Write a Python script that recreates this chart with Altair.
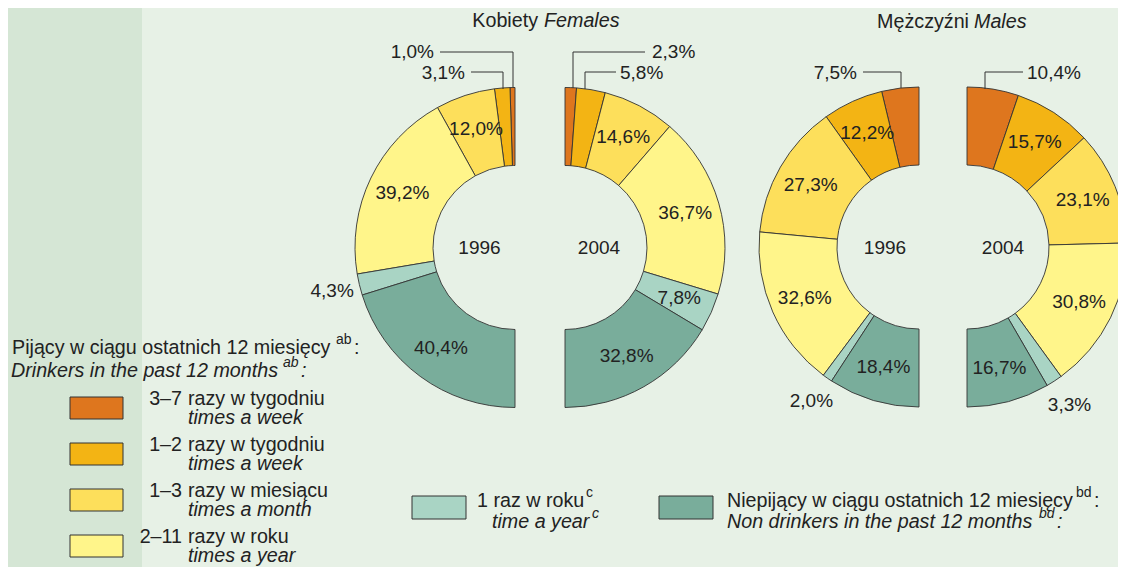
import math
import altair as alt
import pandas as pd

# ---------------- data ----------------
cat_keys = ["w37", "w12", "m13", "y211", "y1", "non"]
cat_colors = ["#de761e", "#f3b414", "#fddf5b", "#fff58a", "#a9d4c4", "#79ad9b"]

female_1996 = [1.0, 3.1, 12.0, 39.2, 4.3, 40.4]
female_2004 = [2.3, 5.8, 14.6, 36.7, 7.8, 32.8]
male_1996 = [7.5, 12.2, 27.3, 32.6, 2.0, 18.4]
male_2004 = [10.4, 15.7, 23.1, 30.8, 3.3, 16.7]

# where each value's label goes: inside the ring, just outside, or on a leader line
female_1996_place = ["lead", "lead", "in", "in", "out", "in"]
female_2004_place = ["lead", "lead", "in", "in", "in", "in"]
male_1996_place = ["lead", "in", "in", "in", "out", "in"]
male_2004_place = ["lead", "in", "in", "in", "out", "in"]

legend_numbers = ["3–7", "1–2", "1–3", "2–11"]
legend_polish = ["razy w tygodniu", "razy w tygodniu", "razy w miesiącu", "razy w roku"]
legend_english = ["times a week", "times a week", "times a month", "times a year"]

# ---------------- style ----------------
FONT = "Liberation Sans"
TXT = "#222222"
BG = "#e7f1e6"
STRIP = "#d5e6d5"
EDGE = "#333333"
R_OUT, R_IN = 160, 82
NUM_SIZE = 19
LEG_SIZE = 19.7
SUP_SIZE = 14

color_scale = alt.Scale(domain=cat_keys, range=cat_colors)


def fmt(v):
    return f"{v:.1f}".replace(".", ",") + "%"


def txt(s, x, y, size=LEG_SIZE, italic=False, align="left"):
    return alt.Chart(pd.DataFrame({"t": [s]})).mark_text(
        align=align, baseline="middle", font=FONT, fontSize=size,
        fontStyle="italic" if italic else "normal", color=TXT
    ).encode(text="t:N", x=alt.value(x), y=alt.value(y))


layers = []

# left darker strip
layers.append(
    alt.Chart(pd.DataFrame({"a": [0]})).mark_rect(color=STRIP).encode(
        x=alt.value(0), x2=alt.value(134), y=alt.value(0), y2=alt.value(559)
    )
)

# ---------------- half rings ----------------
halves = [
    (female_1996, female_1996_place, 507, 239.5, [2 * math.pi, math.pi]),
    (female_2004, female_2004_place, 557, 239.5, [0, math.pi]),
    (male_1996, male_1996_place, 911, 239, [2 * math.pi, math.pi]),
    (male_2004, male_2004_place, 959, 239, [0, math.pi]),
]

for vals, places, cx, cy, rng in halves:
    df = pd.DataFrame({
        "cat": cat_keys,
        "order": list(range(len(cat_keys))),
        "value": vals,
        "label": [fmt(v) for v in vals],
        "place": places,
    })
    base = alt.Chart(df).encode(
        theta=alt.Theta("value:Q", stack=True,
                        scale=alt.Scale(domain=[0, 100], range=rng)),
        order=alt.Order("order:Q", sort="ascending"),
        x=alt.value(cx),
        y=alt.value(cy),
    )
    layers.append(
        base.mark_arc(innerRadius=R_IN, outerRadius=R_OUT, stroke=EDGE,
                      strokeWidth=0.9).encode(
            color=alt.Color("cat:N", scale=color_scale, legend=None)
        )
    )
    layers.append(
        base.transform_calculate(t="datum.place == 'in' ? datum.label : ''")
        .mark_text(radius=125, font=FONT, fontSize=NUM_SIZE, color=TXT)
        .encode(text="t:N")
    )
    layers.append(
        base.transform_calculate(t="datum.place == 'out' ? datum.label : ''")
        .mark_text(radius=188, font=FONT, fontSize=NUM_SIZE, color=TXT)
        .encode(text="t:N")
    )

# ---------------- leader lines for small slices ----------------
leaders = [
    # value, vertical x, arc top y, elbow y, end x, label x, label y, align
    (female_1996[0], 505, 80, 44, 432, 426, 44, "right"),
    (female_1996[1], 495, 81, 64, 463, 457, 65, "right"),
    (female_2004[0], 565, 80, 44, 637, 644, 44, "left"),
    (female_2004[1], 577, 81, 64, 608, 612, 65, "left"),
    (male_1996[0], 893, 80, 64, 855, 849, 65, "right"),
    (male_2004[0], 977, 81, 64, 1015, 1019, 65, "left"),
]
segs = []
for v, vx, ty, ey, ex, lx, ly, al in leaders:
    segs.append({"x": vx, "x2": vx, "y": ty, "y2": ey})
    segs.append({"x": vx, "x2": ex, "y": ey, "y2": ey})
layers.append(
    alt.Chart(pd.DataFrame(segs)).mark_rule(color=EDGE, strokeWidth=1).encode(
        x=alt.X("x:Q", scale=None), x2="x2:Q",
        y=alt.Y("y:Q", scale=None), y2="y2:Q",
    )
)
for v, vx, ty, ey, ex, lx, ly, al in leaders:
    layers.append(txt(fmt(v), lx, ly, size=NUM_SIZE, align=al))

# ---------------- years & titles ----------------
layers.append(txt("1996", 471.5, 240, size=NUM_SIZE, align="center"))
layers.append(txt("2004", 591, 240, size=NUM_SIZE, align="center"))
layers.append(txt("1996", 877, 240, size=NUM_SIZE, align="center"))
layers.append(txt("2004", 995, 240, size=NUM_SIZE, align="center"))

layers.append(txt("Kobiety", 530, 13, align="right"))
layers.append(txt("Females", 536, 13, italic=True))
layers.append(txt("Mężczyźni", 961, 14, align="right"))
layers.append(txt("Males", 966, 14, italic=True))

# ---------------- left legend ----------------
layers.append(txt("Pijący w ciągu ostatnich 12 miesięcy", 4, 340))
layers.append(txt("ab", 328, 332, size=SUP_SIZE))
layers.append(txt(":", 346, 340))
layers.append(txt("Drinkers in the past 12 months", 3, 363, italic=True))
layers.append(txt("ab", 275, 355, size=SUP_SIZE, italic=True))
layers.append(txt(":", 293, 363, italic=True))

leg = pd.DataFrame({
    "cat": cat_keys[:4],
    "i": list(range(4)),
    "num": legend_numbers,
    "pl": legend_polish,
    "en": legend_english,
})
leg_base = alt.Chart(leg).transform_calculate(
    y0="389 + 46 * datum.i", y1="411 + 46 * datum.i",
    ya="391 + 46 * datum.i", yb="410 + 46 * datum.i"
)
layers.append(
    leg_base.mark_rect(stroke=EDGE, strokeWidth=1).encode(
        x=alt.value(62), x2=alt.value(115),
        y=alt.Y("y0:Q", scale=None), y2="y1:Q",
        color=alt.Color("cat:N", scale=color_scale, legend=None),
    )
)
layers.append(
    leg_base.mark_text(align="right", baseline="middle", font=FONT,
                       fontSize=LEG_SIZE, color=TXT).encode(
        x=alt.value(174), y=alt.Y("ya:Q", scale=None), text="num:N")
)
layers.append(
    leg_base.mark_text(align="left", baseline="middle", font=FONT,
                       fontSize=LEG_SIZE, color=TXT).encode(
        x=alt.value(180), y=alt.Y("ya:Q", scale=None), text="pl:N")
)
layers.append(
    leg_base.mark_text(align="left", baseline="middle", font=FONT,
                       fontSize=LEG_SIZE, fontStyle="italic", color=TXT).encode(
        x=alt.value(180), y=alt.Y("yb:Q", scale=None), text="en:N")
)

# ---------------- bottom legend ----------------
bot = pd.DataFrame({"cat": cat_keys[4:], "i": [0, 1]})
layers.append(
    alt.Chart(bot).transform_calculate(
        x0="404 + 247 * datum.i", x1="458 + 247 * datum.i"
    ).mark_rect(stroke=EDGE, strokeWidth=1).encode(
        x=alt.X("x0:Q", scale=None), x2="x1:Q",
        y=alt.value(488), y2=alt.value(511),
        color=alt.Color("cat:N", scale=color_scale, legend=None),
    )
)
layers.append(txt("1 raz w roku", 469, 493))
layers.append(txt("c", 578, 485, size=SUP_SIZE))
layers.append(txt("time a year", 484, 514, italic=True))
layers.append(txt("c", 584, 506, size=SUP_SIZE, italic=True))

layers.append(txt("Niepijący w ciągu ostatnich 12 miesięcy", 719, 493))
layers.append(txt("bd", 1068, 485, size=SUP_SIZE))
layers.append(txt(":", 1086, 493))
layers.append(txt("Non drinkers in the past 12 months", 719, 514, italic=True))
layers.append(txt("bd", 1031, 506, size=SUP_SIZE, italic=True))
layers.append(txt(":", 1049, 514, italic=True))

chart = (
    alt.layer(*layers)
    .resolve_scale(theta="independent")
    .properties(width=1110, height=559,
                autosize=alt.AutoSizeParams(type="none"), padding=0)
    .configure(background=BG)
    .configure_view(stroke=None)
)

chart.save("out.html", embed_options={"renderer": "svg", "actions": False})
